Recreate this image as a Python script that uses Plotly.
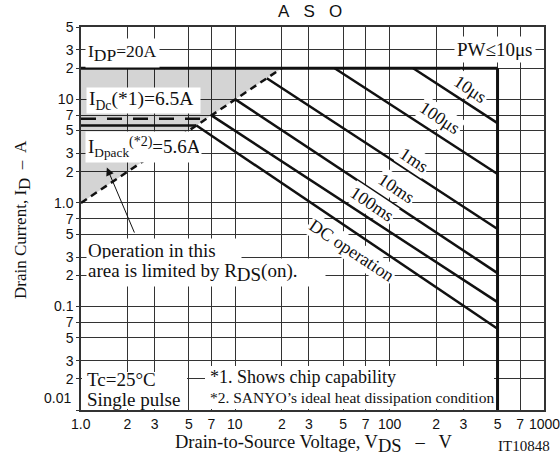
import numpy as np
import plotly.graph_objects as go

# ---------------- data ----------------
v_ticks = [1, 2, 3, 5, 7, 10, 20, 30, 50, 70, 100, 200, 300, 500, 700, 1000]
v_tick_text = ["", "2", "3", "5", "7", "", "2", "3", "5", "7", "", "2", "3", "5", "7", ""]
v_decades = [1, 10, 100, 1000]
v_decade_text = ["1.0", "10", "100", "1000"]
i_ticks = [0.01, 0.02, 0.03, 0.05, 0.07, 0.1, 0.2, 0.3, 0.5, 0.7, 1, 2, 3, 5, 7, 10, 20, 30, 50]
i_tick_text = ["", "2", "3", "5", "7", "0.1", "2", "3", "5", "7", "1.0", "2", "3", "5", "7", "10", "2", "3", "5"]

idp = 20.0       # pulsed drain current limit
vdss = 500.0     # voltage limit
i_min = 0.01
idc = 6.5
idpack = 5.6
rds_v = [1.0, 20.0]
rds_i = [1.0, 20.0]
shade_v = [1.0, 1.0, 20.0, 1.0]
shade_i = [1.0, 20.0, 20.0, 1.0]

pulse_names = ["10μs", "100μs", "1ms", "10ms", "100ms", "DC operation"]
pulse_v0 = [142, 44, 16, 10, 7, 5.6]
pulse_i0 = [20, 20, 16, 10, 7, 5.6]
pulse_i1 = [5.9, 1.9, 0.56, 0.21, 0.11, 0.061]

# ---------------- geometry helpers ----------------
W, H = 560, 456
L, R, T, B = 81, 16, 27, 46
PW, PH = W - L - R, H - T - B


def px(x, y):
    return (x - L) / PW, (H - B - y) / PH


SERIF = "Liberation Serif"
SANS = "Liberation Sans"
BLK = "#111111"

fig = go.Figure()

fig.add_trace(go.Scatter(x=shade_v, y=shade_i, mode="lines", fill="toself",
                         fillcolor="rgba(0,0,0,0.17)", line=dict(width=0),
                         hoverinfo="skip"))
fig.add_trace(go.Scatter(x=[1, vdss], y=[idp, idp], mode="lines",
                         line=dict(color=BLK, width=3)))
fig.add_trace(go.Scatter(x=[vdss, vdss], y=[idp, i_min], mode="lines",
                         line=dict(color=BLK, width=3)))
fig.add_trace(go.Scatter(x=rds_v, y=rds_i, mode="lines",
                         line=dict(color=BLK, width=2.5, dash="7px,5px")))
fig.add_trace(go.Scatter(x=[1, idc], y=[idc, idc], mode="lines",
                         line=dict(color=BLK, width=2.5, dash="15px,11px")))
fig.add_trace(go.Scatter(x=[1, idpack], y=[idpack, idpack], mode="lines",
                         line=dict(color=BLK, width=2.5)))
for v0, i0, i1 in zip(pulse_v0, pulse_i0, pulse_i1):
    fig.add_trace(go.Scatter(x=[v0, vdss], y=[i0, i1], mode="lines",
                             line=dict(color=BLK, width=2.5)))

ann = []


def text(s, x, y, size, font=SERIF, xanchor="left", yanchor="middle", **kw):
    xp, yp = px(x, y)
    d = dict(text=s, xref="paper", yref="paper", x=xp, y=yp, showarrow=False,
             xanchor=xanchor, yanchor=yanchor,
             font=dict(family=font, size=size, color=BLK))
    d.update(kw)
    ann.append(d)


def white_box(x0, y0, x1, y1):
    xp, yp = px(x0, y1)
    ann.append(dict(text=" ", xref="paper", yref="paper", x=xp, y=yp,
                    xanchor="left", yanchor="bottom", showarrow=False,
                    width=x1 - x0, height=y1 - y0, borderpad=0, borderwidth=0,
                    bgcolor="white", font=dict(size=1)))


# white boxes behind the notes at the bottom
white_box(82, 372, 187, 409)
white_box(205, 366, 494, 409)

# title
text("A\u00a0\u00a0\u00a0S\u00a0\u00a0\u00a0O", 310, 12, 17, font=SANS, xanchor="center")
# labels in the plot
text("I<sub><span style='font-size:17.5px'>DP</span></sub>=20A", 85, 53, 17.5,
     bgcolor="white", borderpad=2)
text("PW≤10μs", 536, 50, 19, xanchor="right", bgcolor="white", borderpad=2)
text("I<sub>Dc</sub>(*1)=6.5A", 86, 100.5, 19.5, bgcolor="white", borderpad=2,
     width=109, height=21, align="left")
text("I<sub>Dpack</sub><sup><span style='font-size:14px'>(*2)</span></sup>=5.6A",
     85, 147, 19, bgcolor="white", borderpad=2, width=111, height=26, align="left")
text("Operation in this", 86, 250, 19, bgcolor="white", borderpad=1,
     width=152, align="left")
text("area is limited by R<sub><span style='font-size:19px'>DS</span></sub>(on).",
     86, 272, 19, bgcolor="white", borderpad=1, width=236, align="left")
text("Tc=25°C", 86, 379.5, 19, borderpad=0)
text("Single pulse", 86, 399, 19, borderpad=0)
text("*1. Shows chip capability", 208, 377, 18)
text("*2. SANYO’s ideal heat dissipation condition", 208, 397, 15.5)

# rotated pulse labels
label_xy = [(470, 89), (440, 118), (414, 160), (396, 188), (372, 204), (351, 250)]
for name, (lx, ly) in zip(pulse_names, label_xy):
    text(name, lx, ly, 18, xanchor="center", textangle=33.5,
         bgcolor="white", borderpad=1)

# axis titles
text("Drain Current, I<sub><span style='font-size:17px'>D</span></sub>\u00a0\u00a0–\u00a0 A",
     22, 220, 17, xanchor="center", textangle=-90)
text("Drain-to-Source Voltage, V<sub><span style='font-size:18.5px'>DS</span></sub>\u00a0\u00a0\u00a0–\u00a0\u00a0\u00a0V",
     314, 444, 18.5, xanchor="center", borderpad=0)
text("IT10848", 524, 446, 15, xanchor="center")
# 0.01 label (raised)
text("0.01", 73, 397.5, 14, font=SANS, xanchor="right")

# decade labels on x axis (lower than the minor labels)
for v, s in zip(v_decades, v_decade_text):
    ann.append(dict(text=s, xref="x", yref="paper", x=np.log10(v), y=0,
                    yanchor="top", xanchor="center", yshift=-5, showarrow=False,
                    borderpad=0, font=dict(family=SANS, size=14, color=BLK)))

# arrow
ann.append(dict(text="", xref="x", yref="y", x=np.log10(1.47), y=np.log10(2.2),
                axref="x", ayref="y", ax=np.log10(2.24), ay=np.log10(0.5),
                showarrow=True, arrowhead=2, arrowsize=1.6, arrowwidth=1,
                arrowcolor=BLK))

axis_common = dict(type="log", showgrid=True, gridcolor="#333333", gridwidth=1,
                   showline=True, linecolor="#333333", linewidth=1.5, mirror=True,
                   zeroline=False, tickfont=dict(family=SANS, size=14, color=BLK),
                   tickmode="array")

fig.update_layout(
    width=W, height=H,
    margin=dict(l=L, r=R, t=T, b=B, pad=0),
    paper_bgcolor="white", plot_bgcolor="white",
    showlegend=False,
    xaxis=dict(range=[0, 3], tickvals=v_ticks, ticktext=v_tick_text, ticks="",
               **axis_common),
    yaxis=dict(range=[-2, np.log10(50)], tickvals=i_ticks, ticktext=i_tick_text,
               ticks="outside", ticklen=3, tickcolor="#333333", **axis_common),
    annotations=ann,
)

fig.write_html(
    "out.html",
    config={"displayModeBar": False},
    post_script="document.documentElement.style.margin='0';"
                "document.body.style.margin='0';"
                "document.body.style.overflow='hidden';",
)
